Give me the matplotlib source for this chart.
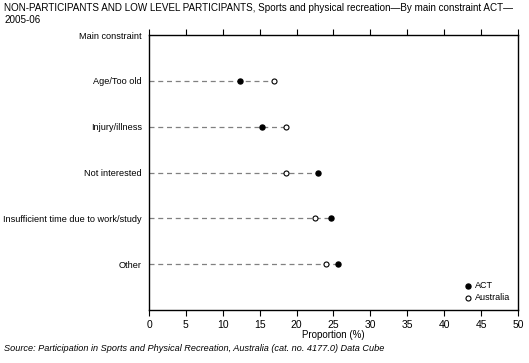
import matplotlib.pyplot as plt

plt.rcParams['font.family'] = ['Liberation Sans', 'DejaVu Sans']

# Data
constraints = ['Age/Too old', 'Injury/illness', 'Not interested',
               'Insufficient time due to work/study', 'Other']
act = [12.3, 15.3, 22.9, 24.6, 25.6]
australia = [17.0, 18.5, 18.6, 22.5, 24.0]

fig = plt.figure(figsize=(5.29, 3.63), dpi=100)
ax = fig.add_axes([0.2817, 0.146, 0.6973, 0.7574])

ypos = list(range(1, len(constraints) + 1))
for y, a, b in zip(ypos, act, australia):
    ax.plot([0, max(a, b)], [y, y], color='#808080', lw=0.9,
            linestyle=(0, (4, 3)), zorder=1)

ax.scatter(act, ypos, s=13, marker='o', color='black', zorder=3, label='ACT')
ax.scatter(australia, ypos, s=13, marker='o', facecolor='white',
           edgecolor='black', linewidth=0.8, zorder=3, label='Australia')

ax.set_xlim(0, 50)
ax.set_ylim(6, 0)
ax.set_xticks(range(0, 51, 5))
ax.set_yticks([0] + ypos)
ax.set_yticklabels(['Main constraint'] + constraints)
ax.tick_params(axis='y', length=0, pad=5, labelsize=6.6)
ax.tick_params(axis='x', which='both', direction='out', length=4,
               labelsize=7.5, top=True, labeltop=False)
for s in ax.spines.values():
    s.set_linewidth(1.0)
ax.set_xlabel('Proportion (%)', fontsize=7, labelpad=0)

ax.legend(loc='lower right', frameon=False, fontsize=6.5, handletextpad=0.2,
          borderaxespad=0.5, labelspacing=0.3, handlelength=1.0,
          bbox_to_anchor=(1.0, 0.0))

fig.text(0.008, 0.992, 'NON-PARTICIPANTS AND LOW LEVEL PARTICIPANTS, Sports and physical recreation\u2014By main constraint ACT\u2014\n2005-06',
         fontsize=7.1, va='top', ha='left', linespacing=1.25)
fig.text(0.008, 0.028, 'Source: Participation in Sports and Physical Recreation, Australia (cat. no. 4177.0) Data Cube',
         fontsize=6.6, style='italic', va='bottom', ha='left')

fig.savefig('out.png', dpi=100)
